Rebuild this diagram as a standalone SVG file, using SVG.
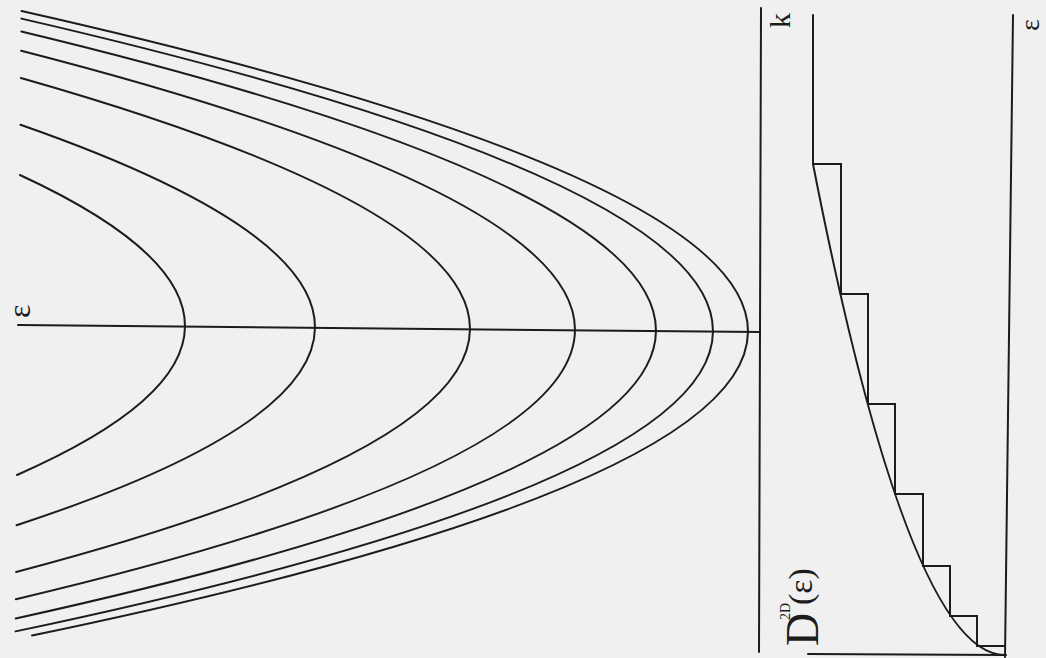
<svg xmlns="http://www.w3.org/2000/svg" width="1046" height="658" viewBox="0 0 1046 658">
<style>
.ln{fill:none;stroke:#1c1c1c;stroke-width:2;stroke-linecap:round;stroke-linejoin:miter}
.lb{font-family:"Liberation Serif","DejaVu Serif",serif;fill:#1c1c1c}
</style>
<rect width="1046" height="658" fill="#f0f0f0"/>
<g id="subband-plot" transform="rotate(0.55 20 325)">
<line id="eps-axis" class="ln" x1="18" y1="325" x2="760" y2="325"/>
<g id="subbands">
<path class="ln" d="M18.5 175 Q185 250 185 325 Q185 400 18.5 475"/>
<path class="ln" d="M18.5 124.8 Q315 224.9 315 325 Q315 425.1 18.5 525.2"/>
<path class="ln" d="M18.5 78 Q470 201.5 470 325 Q470 448.5 18.5 572"/>
<path class="ln" d="M18.5 50.8 Q575 187.9 575 325 Q575 462.1 18.5 599.2"/>
<path class="ln" d="M18.5 31.5 Q656 178.25 656 325 Q656 471.75 18.5 618.5"/>
<path class="ln" d="M18.5 18.6 Q713 171.8 713 325 Q713 478.2 18.5 631.4"/>
<path class="ln" d="M18.5 11 Q748 168 748 325 Q748 480.2 35 635.4"/>
</g>
</g>
<line id="k-axis" class="ln" x1="761" y1="8" x2="759" y2="652"/>
<g id="dos-plot">
<line id="dos-eps-axis" class="ln" x1="1013" y1="15" x2="1005" y2="657"/>
<line id="dos-d-axis" class="ln" x1="808" y1="654" x2="1006" y2="655"/>
<path id="staircase" class="ln" d="M813 15 L813 164 L841 164 L841 294 L868 294 L868 404 L895 404 L895 494 L923 494 L923 566 L950 566 L950 616 L977 616 L977 646 L1005 646"/>
<path id="dos-3d" class="ln" d="M1005 655 Q909 655 813 164"/>
</g>
<g id="labels">
<text class="lb" font-size="32" transform="translate(30 318) rotate(-90)">ε</text>
<text class="lb" font-size="28" transform="translate(1039 31) rotate(-90)">ε</text>
<text class="lb" font-size="30" transform="translate(790 28) rotate(-90)">k</text>
<text class="lb" transform="translate(818 646) rotate(-90)"><tspan x="0" y="0" font-size="46">D</tspan><tspan x="26" y="-28" font-size="14">2D</tspan><tspan x="41" y="-6" font-size="34">(ε)</tspan></text>
</g>
</svg>
